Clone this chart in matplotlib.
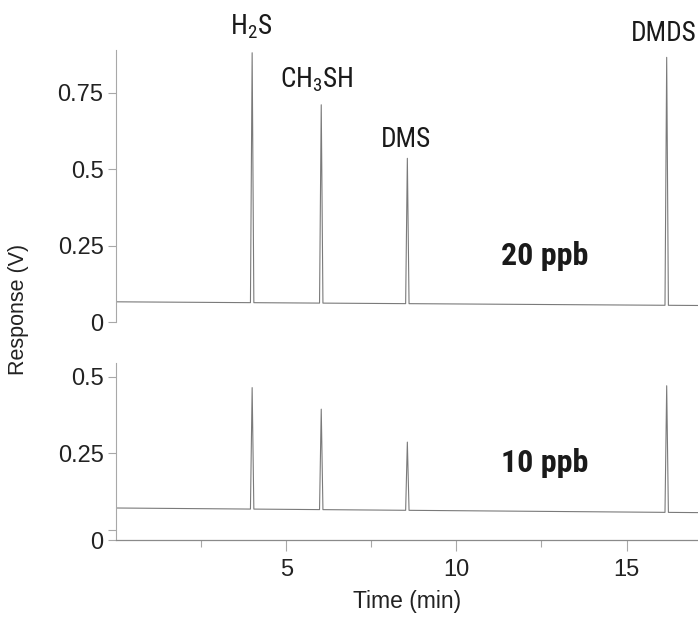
import numpy as np
import matplotlib
matplotlib.use('Agg')
import matplotlib.pyplot as plt

# peak data
compounds = ['H$_2$S', 'CH$_3$SH', 'DMS', 'DMDS']
peak_times = [4.0, 6.03, 8.56, 16.18]          # min
heights_20ppb = [0.88, 0.71, 0.535, 0.865]     # V
heights_10ppb = [0.464, 0.394, 0.287, 0.47]    # V
baseline_20ppb = [0.066, 0.054]                # V at start / end
baseline_10ppb = [0.073, 0.058]
t_range = [0.0, 17.1]

label_font = ['Roboto Condensed', 'Liberation Sans Narrow', 'Archivo Narrow', 'DejaVu Sans']
tick_font = ['Liberation Sans', 'DejaVu Sans']
line_col = '#7a7a7a'
spine_col = '#a8a8a8'

# subscripts in the same condensed face as the labels
plt.rcParams['mathtext.fontset'] = 'custom'
plt.rcParams['mathtext.rm'] = 'Roboto Condensed'
plt.rcParams['mathtext.it'] = 'Roboto Condensed'
plt.rcParams['mathtext.bf'] = 'Roboto Condensed:bold'


def trace(heights, base):
    # build chromatogram polyline: baseline with narrow triangular peaks
    t = [t_range[0]]
    for pt in peak_times:
        t += [pt - 0.05, pt, pt + 0.05]
    t.append(t_range[1])
    t = np.array(t)
    b = np.interp(t, t_range, base)
    y = b.copy()
    for i, pt in enumerate(peak_times):
        y[1 + 3 * i + 1] = heights[i]
    return t, y


fig = plt.figure(figsize=(6.98, 6.19), dpi=100)
ax1 = fig.add_axes([0.1662, 0.4798, 0.8338, 0.4394])
ax2 = fig.add_axes([0.1662, 0.1276, 0.8338, 0.2860])

t, y = trace(heights_20ppb, baseline_20ppb)
ax1.plot(t, y, color=line_col, lw=0.8)
t, y = trace(heights_10ppb, baseline_10ppb)
ax2.plot(t, y, color=line_col, lw=0.8)

ax1.set_xlim(t_range)
ax2.set_xlim(t_range)
ax1.set_ylim(0, 0.889)
ax2.set_ylim(-0.031, 0.544)

ax1.set_yticks([0, 0.25, 0.5, 0.75])
ax1.set_yticklabels(['0', '0.25', '0.5', '0.75'])
ax2.set_yticks([-0.031, 0, 0.25, 0.5])
ax2.set_yticklabels(['0', '', '0.25', '0.5'])

for ax in (ax1, ax2):
    for s in ['top', 'right']:
        ax.spines[s].set_visible(False)
    ax.spines['left'].set_color(spine_col)
    ax.spines['left'].set_linewidth(0.8)
    ax.tick_params(axis='y', length=6, width=0.8, color=spine_col,
                   labelsize=17, labelcolor='#222222', pad=3)
    for lab in ax.get_yticklabels():
        lab.set_family(tick_font)

ax1.spines['bottom'].set_visible(False)
ax1.set_xticks([])

ax2.spines['bottom'].set_color('#8a8a8a')
ax2.spines['bottom'].set_linewidth(0.9)
ax2.set_xticks([5, 10, 15])
ax2.set_xticks([2.5, 7.5, 12.5], minor=True)
ax2.tick_params(axis='x', which='major', length=8, width=0.8, color=spine_col,
                labelsize=17, labelcolor='#222222', pad=6)
ax2.tick_params(axis='x', which='minor', length=5, width=0.8, color=spine_col)
for lab in ax2.get_xticklabels():
    lab.set_family(tick_font)

ax2.set_xlabel('Time (min)', fontsize=16.5, family=tick_font, color='#222222', labelpad=6)
fig.text(0.027, 0.5, 'Response (V)', rotation=90, fontsize=15.5, family=tick_font,
         color='#222222', ha='center', va='center')

# compound labels above the 20 ppb peaks
label_offsets = [0.084, 0.081, 0.06, 0.079]
label_shift = [-0.02, -0.12, -0.05, -0.08]
for name, pt, h, off, dx in zip(compounds, peak_times, heights_20ppb, label_offsets, label_shift):
    ax1.text(pt + dx, h + off, name, ha='center', va='center', fontsize=19.5,
             family=label_font, color='#1a1a1a', clip_on=False)

ax1.text(12.6, 0.215, '20 ppb', ha='center', va='center', fontsize=23,
         fontweight='bold', family=label_font, color='#1a1a1a')
ax2.text(12.6, 0.22, '10 ppb', ha='center', va='center', fontsize=23,
         fontweight='bold', family=label_font, color='#1a1a1a')

fig.savefig('out.png', dpi=100)
